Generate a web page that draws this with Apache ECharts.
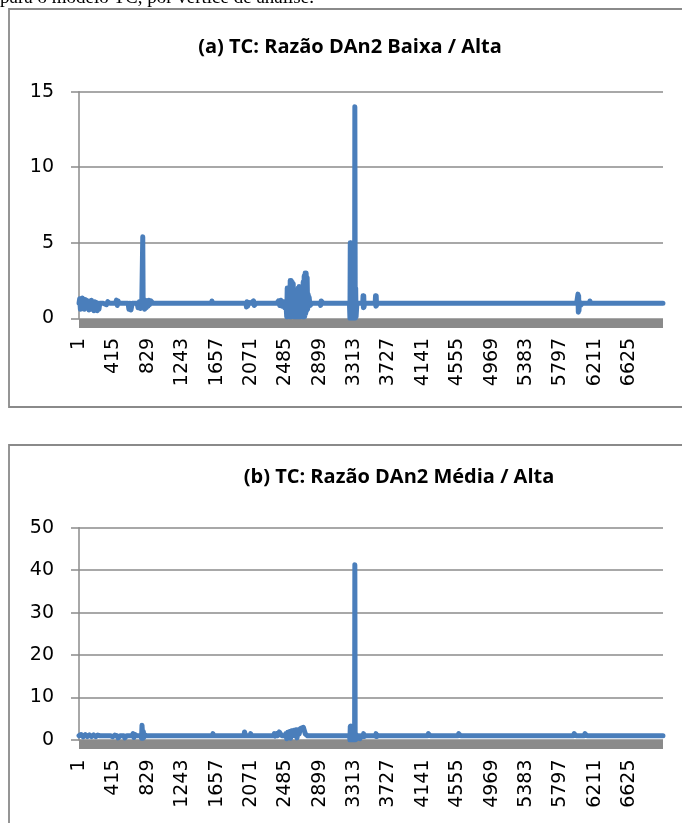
<!DOCTYPE html>
<html><head><meta charset="utf-8">
<script src="https://cdn.jsdelivr.net/npm/echarts@6/dist/echarts.min.js"></script>
<style>html,body{margin:0;padding:0;background:#fff;overflow:hidden}#c{width:682px;height:823px}</style>
</head><body><div id="c"></div>
<script>
// ---- data ----
const N_VERTICES = 7030;          // vertices 1..7030, stored as 0-based index
const X_LABEL_STEP = 414;         // labels 1, 415, 829, ...

const titleA = '(a) TC: Razão DAn2 Baixa / Alta';
const titleB = '(b) TC: Razão DAn2 Média / Alta';
const headerText = 'para o modelo TC, por vértice de análise.';

const yTicksA = [0, 5, 10, 15];
const yTicksB = [0, 10, 20, 30, 40, 50];

// chart (a): [vertex index (0-based), ratio]
const pointsA = [
  [0,1.0],[8,1.3],[16,0.6],[24,1.2],[32,0.7],[40,1.35],[48,0.8],[56,1.2],[64,0.6],[72,1.25],
  [80,0.9],[90,1.2],[100,0.7],[110,1.1],[120,0.55],[130,1.15],[140,0.6],[150,1.2],[160,0.8],[170,1.1],
  [180,0.5],[190,1.1],[200,0.6],[210,1.05],[220,0.5],[230,1.0],[240,0.6],[250,1.0],[290,1.0],
  [330,0.9],[345,1.1],[370,1.0],[440,1.0],[450,1.2],[460,0.85],[470,1.15],[480,1.0],
  [590,1.0],[600,0.6],[612,1.0],[625,0.55],[640,1.0],[700,1.0],[710,0.7],[725,1.1],[740,0.65],[755,1.0],
  [762,1.0],[767,5.4],[772,0.7],[780,1.2],[790,0.6],[800,1.2],[810,0.7],[820,1.15],[830,0.8],[840,1.2],
  [850,0.9],[865,1.15],[890,1.0],
  [1595,1.0],[1600,1.15],[1605,1.0],
  [2010,1.0],[2015,0.75],[2022,1.1],[2030,0.8],[2040,1.05],[2070,1.0],[2100,1.15],[2108,0.85],[2135,1.0],
  [2380,1.0],[2400,1.15],[2415,0.85],[2430,1.2],[2445,0.8],[2460,1.1],[2475,0.7],[2490,1.0],
  [2500,0.1],[2506,2.0],[2512,0.1],[2518,1.9],[2524,0.2],[2530,1.5],[2536,0.1],[2542,2.5],[2548,0.1],
  [2554,2.5],[2560,0.1],[2566,2.4],[2572,0.2],[2578,2.3],[2584,0.1],[2590,1.2],[2596,0.1],[2602,1.4],[2608,0.1],
  [2614,1.0],[2620,0.1],
  [2626,1.8],[2632,0.1],[2638,2.0],[2644,0.1],[2650,2.1],[2656,0.1],[2662,1.6],[2668,0.1],[2674,2.0],[2680,0.2],
  [2686,1.5],[2692,0.1],[2698,2.4],[2704,0.1],[2710,2.8],[2716,0.1],[2722,3.0],[2728,0.3],[2734,3.0],[2740,0.5],
  [2746,2.7],[2752,0.6],[2758,1.6],[2764,0.8],[2770,1.4],[2780,0.85],[2805,1.0],
  [2900,1.0],[2908,0.85],[2915,1.15],[2940,1.0],
  [3255,1.0],[3261,0.0],[3265,5.0],[3269,0.0],[3273,5.0],[3277,0.0],[3281,4.9],[3285,0.0],[3289,5.0],[3293,0.0],
  [3297,4.8],[3301,0.0],[3305,4.6],[3309,0.0],[3313,4.0],[3317,0.0],[3320,14.0],[3325,0.0],[3330,2.0],[3335,0.1],
  [3345,1.0],
  [3415,1.0],[3419,1.5],[3423,0.7],[3427,1.5],[3431,0.75],[3436,1.0],
  [3565,1.0],[3569,1.5],[3573,0.8],[3577,1.5],[3581,0.85],[3586,1.0],
  [5990,1.0],[6006,1.6],[6010,0.4],[6014,1.5],[6018,0.5],[6024,1.1],[6035,0.85],[6060,1.0],
  [6145,1.0],[6150,1.15],[6155,1.0],[7029,1.0]
];

// chart (b): [vertex index (0-based), ratio]
const pointsB = [
  [0,1.0],[25,1.3],[50,0.75],[75,1.25],[100,0.8],[125,1.2],[150,0.8],[175,1.2],[200,0.8],[225,1.15],[250,1.0],
  [380,1.0],[405,0.75],[430,1.15],[455,1.0],[470,0.5],[495,1.0],[540,1.0],[550,0.5],[575,1.0],
  [640,1.0],[650,1.5],[660,0.6],[670,1.3],[695,1.0],
  [745,1.0],[752,0.4],[758,3.5],[763,3.6],[768,0.4],[774,2.0],[780,0.6],[790,1.2],[815,1.0],
  [1605,1.0],[1612,1.5],[1618,1.0],
  [1985,1.0],[1992,1.9],[1998,1.8],[2004,1.0],[2060,1.0],[2066,1.5],[2072,1.0],
  [2340,1.0],[2350,1.5],[2360,0.9],[2380,1.5],[2390,1.0],[2410,1.9],[2418,1.6],[2440,1.0],
  [2475,1.0],[2490,1.5],[2500,0.3],[2512,1.8],[2522,0.6],[2536,2.0],[2546,0.4],[2560,2.2],[2572,1.2],[2588,2.3],
  [2598,1.0],[2612,2.4],[2624,0.5],[2638,2.4],[2650,1.4],[2664,2.7],[2676,2.9],[2688,3.1],[2700,3.0],[2712,2.8],
  [2724,1.4],[2750,1.0],
  [3255,1.0],[3261,0.0],[3265,3.2],[3269,0.0],[3273,3.3],[3277,0.0],[3281,3.2],[3285,0.0],[3289,3.0],[3293,0.0],
  [3297,3.1],[3301,0.0],[3305,2.8],[3309,0.0],[3313,2.5],[3317,0.0],[3320,41.3],[3324,0.0],[3330,1.5],[3336,0.2],
  [3345,1.0],[3375,1.0],[3382,0.3],[3390,1.0],
  [3420,1.0],[3425,1.5],[3430,0.8],[3455,1.0],[3570,1.0],[3575,1.5],[3580,0.8],[3605,1.0],
  [4195,1.0],[4205,1.5],[4230,1.0],[4560,1.0],[4570,1.5],[4595,1.0],
  [5950,1.0],[5960,1.5],[5985,1.0],[6080,1.0],[6090,1.5],[6115,1.0],[7029,1.0]
];

// ---- build ----
const GRID_COLOR = '#8b8b8b';
const LINE_COLOR = '#4a7ebb';
const LABEL_FONT = 'DejaVu Sans';

function xAxis(gridIndex) {
  return {
    type: 'value', gridIndex, min: 0, max: N_VERTICES, interval: X_LABEL_STEP,
    offset: 4.5,
    axisLine: { show: true, onZero: false, lineStyle: { color: '#8a8a8a', width: 9, cap: 'butt' } },
    axisTick: { show: false },
    axisLabel: {
      rotate: 90, margin: 15, fontFamily: LABEL_FONT, fontSize: 19, color: '#000',
      showMaxLabel: false,
      formatter: v => (v % X_LABEL_STEP === 0 && v < N_VERTICES) ? String(v + 1) : ''
    },
    splitLine: { show: false }
  };
}
function yAxis(gridIndex, ticks) {
  return {
    type: 'value', gridIndex,
    min: ticks[0], max: ticks[ticks.length - 1], interval: ticks[1] - ticks[0],
    axisLine: { show: true, lineStyle: { color: GRID_COLOR, width: 1.5 } },
    axisTick: { show: true, length: 8, lineStyle: { color: GRID_COLOR, width: 1.5 } },
    axisLabel: { margin: 25, fontFamily: LABEL_FONT, fontSize: 19, color: '#000' },
    splitLine: { show: true, lineStyle: { color: GRID_COLOR, width: 1.5 } }
  };
}
function lineSeries(i, data) {
  return {
    type: 'line', xAxisIndex: i, yAxisIndex: i,
    data: data.map(p => [p[0] + 0.5, p[1]]),
    symbol: 'none', showSymbol: false, smooth: false,
    lineStyle: { color: LINE_COLOR, width: 5, cap: 'round', join: 'round' },
    animation: false, z: 5
  };
}

const chart = echarts.init(document.getElementById('c'), null, { renderer: 'canvas' });
chart.setOption({
  animation: false,
  backgroundColor: '#fff',
  grid: [
    { left: 79, right: 19, top: 91.7, height: 226.6 },
    { left: 79, right: 19, top: 527.7, height: 212.3 }
  ],
  xAxis: [xAxis(0), xAxis(1)],
  yAxis: [yAxis(0, yTicksA), yAxis(1, yTicksB)],
  series: [lineSeries(0, pointsA), lineSeries(1, pointsB)],
  graphic: [
    { type: 'rect', shape: { x: 9, y: 9, width: 690, height: 398 }, style: { fill: null, stroke: '#8a8a8a', lineWidth: 1.8 }, silent: true },
    { type: 'rect', shape: { x: 9, y: 445, width: 690, height: 420 }, style: { fill: null, stroke: '#8a8a8a', lineWidth: 1.8 }, silent: true },
    { type: 'text', x: 350, y: 47, style: { text: titleA, font: 'bold 20px "Open Sans"', fill: '#000', textAlign: 'center', textVerticalAlign: 'middle' }, silent: true },
    { type: 'text', x: 399, y: 477, style: { text: titleB, font: 'bold 20px "Open Sans"', fill: '#000', textAlign: 'center', textVerticalAlign: 'middle' }, silent: true },
    { type: 'text', x: 0, y: -2, style: { text: headerText, font: '19px "Liberation Serif"', fill: '#000', textAlign: 'left', textVerticalAlign: 'middle' }, silent: true }
  ]
});
</script>
</body></html>
